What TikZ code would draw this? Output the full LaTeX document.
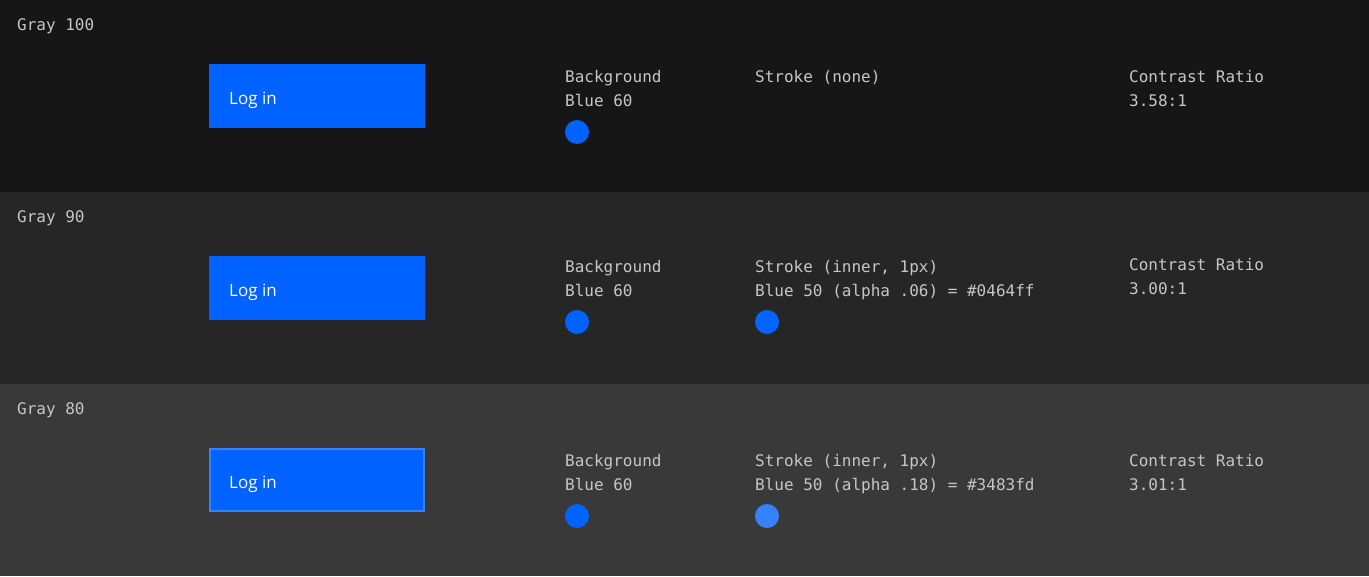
\documentclass[tikz,border=0pt]{standalone}
\usepackage{fontspec}
\newfontfamily\monof{DejaVu Sans Mono}
\newfontfamily\sansf{Open Sans}
\definecolor{g100}{HTML}{161616}
\definecolor{g90}{HTML}{262626}
\definecolor{g80}{HTML}{393939}
\definecolor{txt}{HTML}{C6C6C6}
\definecolor{blue60}{HTML}{0062FF}
\definecolor{strokeA}{HTML}{0464FF}
\definecolor{strokeB}{HTML}{3483FD}
\tikzset{
  lbl/.style={anchor=base west, inner sep=0pt, text=txt, font=\monof\fontsize{16}{18}\selectfont},
  btn/.style={fill=blue60, draw=none},
  btntxt/.style={anchor=base west, inner sep=0pt, text=white, font=\sansf\fontsize{17}{20}\selectfont},
  swatch/.style={circle, inner sep=0pt, minimum size=24pt}
}
\begin{document}
\begin{tikzpicture}[x=1pt,y=-1pt]
\useasboundingbox (0,0) rectangle (1369,576);
\fill[g100] (0,0) rectangle (1369,192);
\fill[g90] (0,192) rectangle (1369,384);
\fill[g80] (0,384) rectangle (1369,576);
% band 1
\node[lbl] (t1) at (17,30) {Gray 100};
\fill[btn] (209,64) rectangle (425,128);
\node[btntxt] (b1) at (229,104) {Log in};
\node[lbl] (bg1) at (565,82) {Background};
\node[lbl] (bv1) at (565,106) {Blue 60};
\node[swatch, fill=blue60] (c1) at (577,132) {};
\node[lbl] (s1) at (755,82) {Stroke (none)};
\node[lbl] (cr1) at (1129,82) {Contrast Ratio};
\node[lbl] (cv1) at (1129,106) {3.58:1};
% band 2
\node[lbl] (t2) at (17,222) {Gray 90};
\fill[btn] (209,256) rectangle (425,320);
\node[btntxt] (b2) at (229,296) {Log in};
\node[lbl] (bg2) at (565,272) {Background};
\node[lbl] (bv2) at (565,296) {Blue 60};
\node[swatch, fill=blue60] (c2) at (577,322) {};
\node[lbl] (s2) at (755,272) {Stroke (inner, 1px)};
\node[lbl] (sv2) at (755,296) {Blue 50 (alpha .06) = \#0464ff};
\node[swatch, fill=strokeA] (d2) at (767,322) {};
\node[lbl] (cr2) at (1129,270) {Contrast Ratio};
\node[lbl] (cv2) at (1129,294) {3.00:1};
% band 3
\node[lbl] (t3) at (17,414) {Gray 80};
\fill[btn] (209,448) rectangle (425,512);
\draw[strokeB, line width=1.6pt] (209.8,448.8) rectangle (424.2,511.2);
\node[btntxt] (b3) at (229,488) {Log in};
\node[lbl] (bg3) at (565,466) {Background};
\node[lbl] (bv3) at (565,490) {Blue 60};
\node[swatch, fill=blue60] (c3) at (577,516) {};
\node[lbl] (s3) at (755,466) {Stroke (inner, 1px)};
\node[lbl] (sv3) at (755,490) {Blue 50 (alpha .18) = \#3483fd};
\node[swatch, fill=strokeB] (d3) at (767,516) {};
\node[lbl] (cr3) at (1129,466) {Contrast Ratio};
\node[lbl] (cv3) at (1129,490) {3.01:1};
\end{tikzpicture}
\end{document}
